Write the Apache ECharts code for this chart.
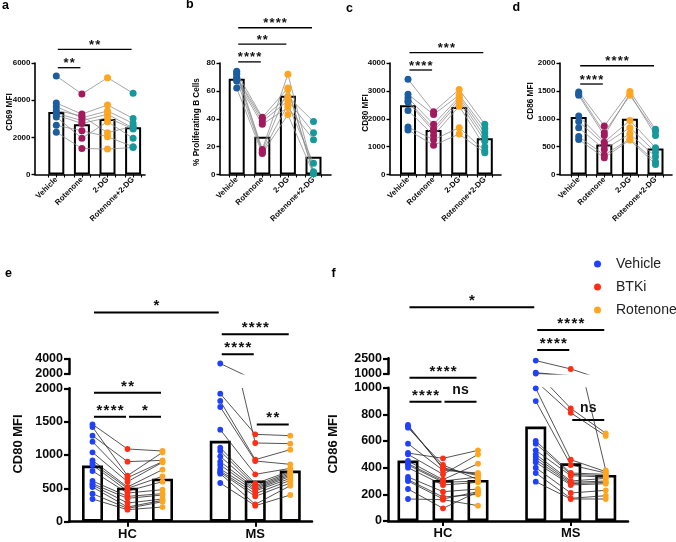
<!DOCTYPE html>
<html><head><meta charset="utf-8">
<script src="https://cdn.jsdelivr.net/npm/echarts@6/dist/echarts.min.js"></script>
<style>html,body{margin:0;padding:0;background:#fff}#c{width:676px;height:542px}</style>
</head><body><div id="c"></div>
<script>
// ================= DATA =================
const topCategories = ['Vehicle', 'Rotenone', '2-DG', 'Rotenone+2-DG'];
const bottomGroups = ['HC', 'MS'];
const bottomTreatments = ['Vehicle', 'BTKi', 'Rotenone'];

// a: CD69 MFI (one entry per donor, paired by index)
const cd69Vehicle  = [5300, 3850, 3650, 3450, 3300, 3200, 3100, 2650, 2280];
const cd69Rotenone = [4330, 3250, 3050, 3150, 2900, 2750, 1950, 2350, 1400];
const cd69TwoDG    = [5210, 3740, 3420, 2250, 3240, 3060, 2840, 2035, 1370];
const cd69RotTwoDG = [4370, 3020, 2750, 2600, 2500, 2450, 1950, 1500, 1450];
const cd69Bars     = [3360, 2700, 2990, 2540];

// b: % Proliferating B Cells
const prolifVehicle  = [74, 73, 72, 70, 69, 68, 67, 62];
const prolifRotenone = [18, 41, 17, 40, 38, 16, 36, 15];
const prolifTwoDG    = [72, 62, 61, 56, 53, 50, 48, 43];
const prolifRotTwoDG = [2, 1, 0.5, 38, 30, 8, 25, 0.5];
const prolifBars     = [68.7, 27, 56.5, 12.7];

// c: CD80 MFI
const cd80Vehicle  = [3420, 2880, 2750, 2650, 2600, 2300, 1700, 1600];
const cd80Rotenone = [2250, 2150, 1800, 1650, 1550, 1400, 1250, 1050];
const cd80TwoDG    = [3050, 2850, 2780, 2700, 2600, 2450, 1680, 1450];
const cd80RotTwoDG = [1800, 1650, 1500, 1350, 1200, 1000, 850, 780];
const cd80Bars     = [2480, 1600, 2420, 1300];

// d: CD86 MFI
const cd86Vehicle  = [1480, 1450, 1420, 1050, 950, 840, 680, 630];
const cd86Rotenone = [870, 750, 700, 580, 540, 450, 350, 300];
const cd86TwoDG    = [1490, 1420, 1450, 970, 840, 730, 640, 620];
const cd86RotTwoDG = [810, 770, 700, 480, 400, 320, 230, 180];
const cd86Bars     = [1030, 540, 1000, 465];

// e: CD80 MFI, HC / MS
const hcCd80Vehicle  = [1460, 1420, 1290, 1200, 1040, 920, 880, 850, 760, 610, 570, 550, 520, 420, 340];
const hcCd80BTKi     = [1090, 690, 900, 660, 600, 520, 500, 460, 430, 380, 350, 280, 220, 200, 180];
const hcCd80Rotenone = [1060, 1040, 920, 900, 890, 780, 680, 600, 480, 420, 400, 340, 320, 300, 220];
const msCd80Vehicle  = [3400, 1920, 1810, 1720, 1380, 1110, 1060, 980, 900, 850, 790, 760, 740, 720, 580];
const msCd80BTKi     = [1180, 1310, 930, 910, 710, 570, 540, 520, 500, 480, 460, 420, 380, 260, 240];
const msCd80Rotenone = [1170, 1290, 1080, 860, 800, 760, 740, 720, 700, 680, 650, 620, 580, 540, 400];
const hcCd80Bars = [842, 510, 644];
const msCd80Bars = [1213, 619, 767];

// f: CD86 MFI, HC / MS
const hcCd86Vehicle  = [720, 710, 700, 580, 510, 500, 450, 430, 420, 400, 330, 310, 300, 240, 165];
const hcCd86BTKi     = [390, 400, 420, 380, 470, 350, 310, 300, 290, 270, 220, 180, 165, 95, 160];
const hcCd86Rotenone = [350, 340, 310, 360, 530, 500, 430, 330, 300, 290, 240, 200, 220, 220, 115];
const msCd86Vehicle  = [2280, 1120, 1050, 995, 900, 600, 580, 530, 500, 480, 460, 440, 400, 360, 295];
const msCd86BTKi     = [1480, 845, 812, 460, 420, 360, 350, 340, 300, 290, 280, 270, 210, 170, 165];
const msCd86Rotenone = [380, 658, 638, 370, 360, 350, 340, 330, 320, 300, 290, 280, 230, 190, 165];
const hcCd86Bars = [453, 308, 308];
const msCd86Bars = [708, 433, 345];

// ================= LAYOUT / STYLE =================
const FONT = '"Liberation Sans", Arial, Helvetica, sans-serif';
const TXT = '#0a0a0a';
const topColors = ['#1b5d9f', '#a3195d', '#ffa520', '#16999b'];
const bottomColors = ['#2040ff', '#ff2e14', '#ffa61e'];
const TOP_SP = 25.6;        // px between bar centres (top panels)
const BOT_SP = 35;          // px between bar centres (bottom panels)
const GROUP_GAP = 3.65;     // MS group offset in bar units

const topPanels = [
  {letter:'a', lx:2,   ly:5.5, name:'CD69 MFI', nx:9.5, ny:112, vals:[cd69Vehicle, cd69Rotenone, cd69TwoDG, cd69RotTwoDG], bars:cd69Bars, max:6000, interval:2000, axisX:35, first:56.3, end:145},
  {letter:'b', lx:186, ly:4.8, name:'% Proliferating B Cells', nx:197, ny:122, vals:[prolifVehicle, prolifRotenone, prolifTwoDG, prolifRotTwoDG], bars:prolifBars, max:80, interval:20, axisX:220, first:236.7, end:331},
  {letter:'c', lx:346, ly:8.2, name:'CD80 MFI', nx:365.5, ny:113, vals:[cd80Vehicle, cd80Rotenone, cd80TwoDG, cd80RotTwoDG], bars:cd80Bars, max:4000, interval:1000, axisX:390, first:408, end:501},
  {letter:'d', lx:512.5, ly:7.2, name:'CD86 MFI', nx:530.5, ny:101, vals:[cd86Vehicle, cd86Rotenone, cd86TwoDG, cd86RotTwoDG], bars:cd86Bars, max:2000, interval:500, axisX:560, first:578.7, end:672}
];
const bottomPanels = [
  {letter:'e', lx:5, ly:273.8, name:'CD80 MFI', nx:18, ny:444,
   vals:[[hcCd80Vehicle, hcCd80BTKi, hcCd80Rotenone],[msCd80Vehicle, msCd80BTKi, msCd80Rotenone]],
   bars:[hcCd80Bars, msCd80Bars], lowMax:2000, lowInt:500, upMin:2000, upMax:4000,
   axisX:69, first:92.5, end:312, lowTop:388.3, lowH:133.4, upTop:359, upH:15},
  {letter:'f', lx:331.5, ly:273.8, name:'CD86 MFI', nx:333, ny:444,
   vals:[[hcCd86Vehicle, hcCd86BTKi, hcCd86Rotenone],[msCd86Vehicle, msCd86BTKi, msCd86Rotenone]],
   bars:[hcCd86Bars, msCd86Bars], lowMax:1000, lowInt:200, upMin:1000, upMax:2500,
   axisX:388, first:408, end:628, lowTop:387.7, lowH:133.3, upTop:358.3, upH:15.7}
];
// significance brackets: [panel, from, to, y (axis units), text]; bottom from/to = [group, treatment]
const topSig = [
  [0, 0, 1, 5747, '**'], [0, 0, 3, 6737, '**'],
  [1, 0, 1, 80.8, '****'], [1, 0, 2, 93.6, '**'], [1, 0, 3, 105.3, '****'],
  [2, 0, 1, 3749, '****'], [2, 0, 3, 4370, '***'],
  [3, 0, 1, 1623, '****'], [3, 0, 3, 1951, '****']
];
const bottomSig = [
  [0, [0,0], [1,0], 3137, '*'], [0, [1,0], [1,2], 2812, '****'], [0, [1,0], [1,1], 2512, '****'],
  [0, [0,0], [0,2], 1932, '**'], [0, [0,0], [0,1], 1573, '****'], [0, [0,1], [0,2], 1573, '*'],
  [0, [1,1], [1,2], 1459, '**'],
  [1, [0,0], [1,0], 1603, '*'], [1, [1,0], [1,2], 1433, '****'], [1, [1,0], [1,1], 1283, '****'],
  [1, [0,0], [0,2], 1075, '****'], [1, [0,0], [0,1], 895, '****'], [1, [0,1], [0,2], 895, 'ns'],
  [1, [1,1], [1,2], 758, 'ns']
];

// ================= BUILD =================
const grid = [], xAxis = [], yAxis = [], series = [];
const lbl = (size) => ({fontSize:size, fontWeight:'bold', fontFamily:FONT, color:TXT});
const blk = (w) => ({color:'#000', width:w});

topPanels.forEach((p, i) => {
  const min = -(p.first - p.axisX) / TOP_SP, max = (p.end - p.first) / TOP_SP;
  grid.push({left:p.axisX, top:63, width:p.end - p.axisX, height:111.5});
  const ticks = [];
  topCategories.forEach((c, k) => { ticks.push(k - 0.31, k, k + 0.31); });
  xAxis.push({gridIndex:i, type:'value', min:min, max:max,
    axisLine:{show:true, onZero:false, lineStyle:blk(1.6)},
    axisTick:{show:true, customValues:ticks, length:3, lineStyle:blk(1.1)},
    axisLabel:Object.assign(lbl(7.8), {customValues:[0,1,2,3], rotate:45, margin:4,
      formatter:(v) => topCategories[Math.round(v)]}),
    splitLine:{show:false}});
  yAxis.push({gridIndex:i, type:'value', min:0, max:p.max, interval:p.interval,
    axisLine:{show:true, onZero:false, lineStyle:blk(1.6)},
    axisTick:{show:true, length:3.5, lineStyle:blk(1.4)},
    axisLabel:Object.assign(lbl(8), {margin:4.5, formatter:(v) => String(v)}),
    splitLine:{show:false}});
  series.push({type:'bar', xAxisIndex:i, yAxisIndex:i, barWidth:16, z:1, silent:true,
    data:p.bars.map((v, k) => [k, v]),
    itemStyle:{color:'#fff', borderColor:'#000', borderWidth:2}});
  const n = p.vals[0].length;
  for (let d = 0; d < n; d++) {
    series.push({type:'line', xAxisIndex:i, yAxisIndex:i, z:2, silent:true, symbol:'none',
      data:p.vals.map((arr, k) => [k, arr[d]]),
      lineStyle:{color:'#8e8e8e', width:0.8}});
  }
  p.vals.forEach((arr, k) => series.push({type:'scatter', name:p.letter + ' ' + topCategories[k],
    xAxisIndex:i, yAxisIndex:i, z:3, symbolSize:7, data:arr.map((v) => [k, v]),
    itemStyle:{color:topColors[k], opacity:1}}));
});

const bottomIdx = [];
bottomPanels.forEach((p, j) => {
  const lowI = grid.length, upI = lowI + 1;
  bottomIdx.push(lowI);
  const min = -(p.first - p.axisX) / BOT_SP, max = (p.end - p.first) / BOT_SP;
  const w = p.end - p.axisX;
  grid.push({left:p.axisX, top:p.lowTop, width:w, height:p.lowH});
  grid.push({left:p.axisX, top:p.upTop, width:w, height:p.upH});
  const pos = (g, t) => g * GROUP_GAP + t;
  const groupCenters = bottomGroups.map((g, gi) => pos(gi, 1));
  xAxis.push({gridIndex:lowI, type:'value', min:min, max:max,
    axisLine:{show:true, onZero:false, lineStyle:blk(2.5)},
    axisTick:{show:true, customValues:groupCenters, length:5, lineStyle:blk(2)},
    axisLabel:Object.assign(lbl(13), {customValues:groupCenters, margin:6,
      formatter:(v) => bottomGroups[Math.round((v - 1) / GROUP_GAP)]}),
    splitLine:{show:false}});
  xAxis.push({gridIndex:upI, type:'value', min:min, max:max, show:false});
  yAxis.push({gridIndex:lowI, type:'value', min:0, max:p.lowMax, interval:p.lowInt,
    axisLine:{show:true, onZero:false, lineStyle:blk(2.5)},
    axisTick:{show:true, length:5, lineStyle:blk(2.2)},
    axisLabel:Object.assign(lbl(12.5), {margin:6, formatter:(v) => String(v)}),
    splitLine:{show:false}});
  yAxis.push({gridIndex:upI, type:'value', min:p.upMin, max:p.upMax,
    axisLine:{show:true, onZero:false, lineStyle:blk(2.5)},
    axisTick:{show:true, customValues:[p.upMin, p.upMax], length:5, lineStyle:blk(2.2)},
    axisLabel:Object.assign(lbl(12.5), {customValues:[p.upMin, p.upMax], margin:6, formatter:(v) => String(v)}),
    splitLine:{show:false}});
  // bars
  const barData = [];
  p.bars.forEach((arr, g) => arr.forEach((v, t) => barData.push([pos(g, t), v])));
  series.push({type:'bar', xAxisIndex:lowI, yAxisIndex:lowI, barWidth:21, z:1, silent:true,
    data:barData, itemStyle:{color:'#fff', borderColor:'#000', borderWidth:2.6}});
  // donor lines (drawn in both segments, clipped by each grid)
  p.vals.forEach((group, g) => {
    const n = group[0].length;
    for (let d = 0; d < n; d++) {
      const line = group.map((arr, t) => [pos(g, t), arr[d]]);
      [lowI, upI].forEach((gi) => {
        if (gi === upI && !line.some((pt) => pt[1] > p.lowMax)) return;
        series.push({type:'line', xAxisIndex:gi, yAxisIndex:gi, z:2, silent:true, symbol:'none', clip:true,
          data:line, lineStyle:{color:'#2a2a2a', width:0.8}});
      });
    }
  });
  // points
  bottomTreatments.forEach((tr, t) => {
    const low = [], up = [];
    p.vals.forEach((group, g) => group[t].forEach((v) => (v > p.lowMax ? up : low).push([pos(g, t), v])));
    series.push({type:'scatter', name:tr, xAxisIndex:lowI, yAxisIndex:lowI, z:3, symbolSize:5.8,
      data:low, itemStyle:{color:bottomColors[t], opacity:1}});
    series.push({type:'scatter', name:tr, xAxisIndex:upI, yAxisIndex:upI, z:3, symbolSize:5.8,
      data:up, itemStyle:{color:bottomColors[t], opacity:1}});
  });
});

const option = {
  animation:false,
  backgroundColor:'#fff',
  textStyle:{fontFamily:FONT},
  grid:grid, xAxis:xAxis, yAxis:yAxis, series:series,
  legend:{data:bottomTreatments, orient:'vertical', left:594, top:257, icon:'circle',
    itemWidth:7, itemHeight:7, itemGap:9, selectedMode:false, padding:0,
    textStyle:{fontSize:14, fontFamily:FONT, color:'#222', padding:[0, 0, 0, 10]}}
};

const chart = echarts.init(document.getElementById('c'));
chart.setOption(option);

// ---------- annotations (letters, axis names, significance brackets) ----------
const gfx = [];
const letterStyle = {fontSize:12.5, fontWeight:'bold', fontFamily:FONT, fill:'#000'};
topPanels.concat(bottomPanels).forEach((p, i) => {
  gfx.push({type:'text', x:p.lx, y:p.ly, style:Object.assign({text:p.letter, verticalAlign:'middle'}, letterStyle)});
  const big = i >= topPanels.length;
  gfx.push({type:'text', x:p.nx, y:p.ny, rotation:Math.PI / 2,
    style:{text:p.name, align:'center', verticalAlign:'middle', fontSize:big ? 13 : 8.2,
      fontWeight:'bold', fontFamily:FONT, fill:TXT}});
});
function bracket(gi, x0, x1, y, text, big) {
  const a = chart.convertToPixel({xAxisIndex:gi, yAxisIndex:gi}, [x0, y]);
  const b = chart.convertToPixel({xAxisIndex:gi, yAxisIndex:gi}, [x1, y]);
  const inset = 1.5;
  gfx.push({type:'line', shape:{x1:a[0] + inset, y1:a[1], x2:b[0] - inset, y2:b[1]},
    style:{stroke:'#000', lineWidth:big ? 2 : 1.3}});
  const isNs = text === 'ns';
  const t = isNs ? text : text.split('').join('\u200A');
  const fs = isNs ? 14 : (big ? 15 : 13);
  const dy = isNs ? 11.7 : (big ? 6.3 : 4);
  gfx.push({type:'text', x:(a[0] + b[0]) / 2, y:a[1] - dy,
    style:{text:t, align:'center', verticalAlign:'middle', fontSize:fs, fontWeight:'bold', fontFamily:FONT, fill:'#111'}});
}
topSig.forEach((s) => bracket(s[0], s[1], s[2], s[3], s[4], false));
bottomSig.forEach((s) => {
  const gi = bottomIdx[s[0]];
  bracket(gi, s[1][0] * GROUP_GAP + s[1][1], s[2][0] * GROUP_GAP + s[2][1], s[3], s[4], true);
});
chart.setOption({graphic:gfx});
</script></body></html>
